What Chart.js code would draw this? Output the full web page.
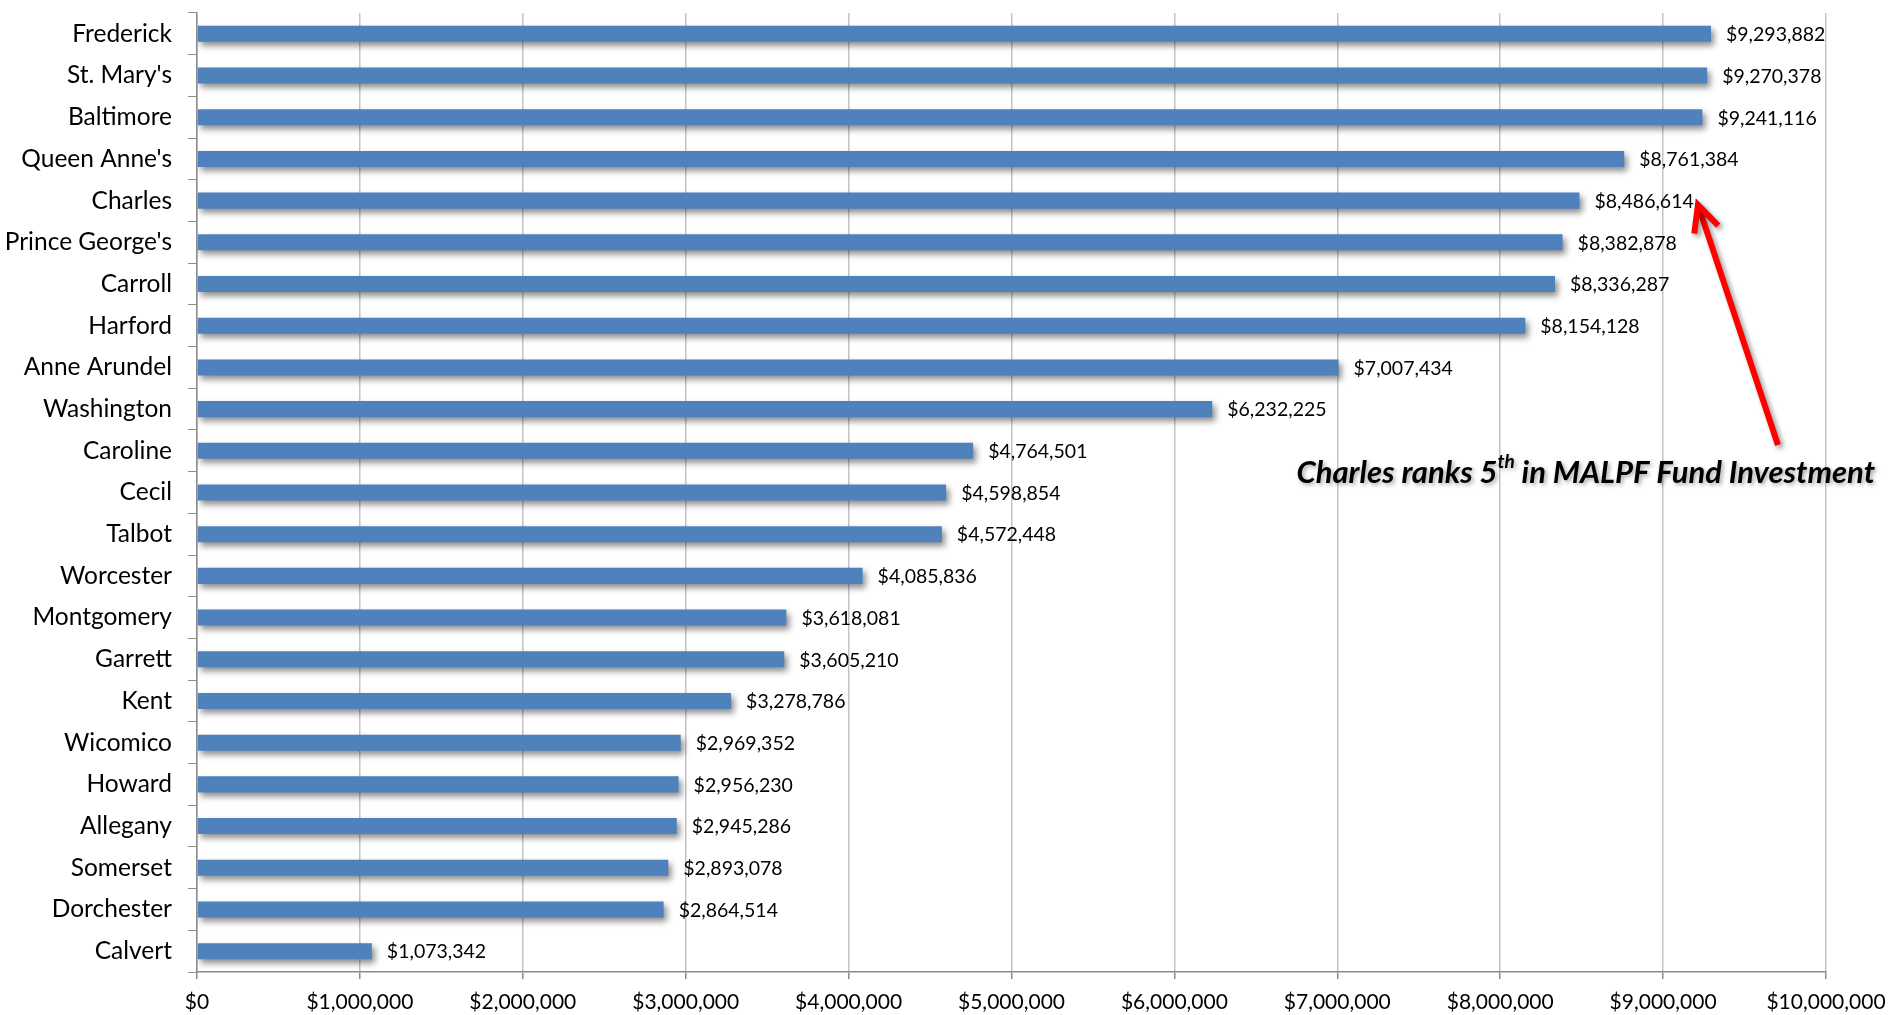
<!DOCTYPE html>
<html>
<head>
<meta charset="utf-8">
<script src="https://cdn.jsdelivr.net/npm/chart.js@4.4.0/dist/chart.umd.min.js"></script>
<style>
html,body{margin:0;padding:0;background:#fff;}
#wrap{width:1889px;height:1015px;position:relative;}
</style>
</head>
<body>
<div id="wrap"><canvas id="c" width="1889" height="1015"></canvas></div>
<script>
const counties = ["Frederick","St. Mary's","Baltimore","Queen Anne's","Charles","Prince George's","Carroll","Harford","Anne Arundel","Washington","Caroline","Cecil","Talbot","Worcester","Montgomery","Garrett","Kent","Wicomico","Howard","Allegany","Somerset","Dorchester","Calvert"];
const investment = [9293882,9270378,9241116,8761384,8486614,8382878,8336287,8154128,7007434,6232225,4764501,4598854,4572448,4085836,3618081,3605210,3278786,2969352,2956230,2945286,2893078,2864514,1073342];
const xTicks = [0,1000000,2000000,3000000,4000000,5000000,6000000,7000000,8000000,9000000,10000000];
const annotationText = ["Charles ranks 5", "th", " in MALPF Fund Investment"];
const highlightCounty = "Charles";

const FONT = "Lato, 'Open Sans', sans-serif";
const money = v => "$" + Math.round(v).toLocaleString("en-US");

const shadowPlugin = {
  id: 'barShadow',
  beforeDatasetsDraw(chart) {
    const ctx = chart.ctx;
    ctx.save();
    ctx.shadowColor = 'rgba(0,0,0,0.45)';
    ctx.shadowBlur = 6;
    ctx.shadowOffsetX = 3;
    ctx.shadowOffsetY = 4;
  },
  afterDatasetsDraw(chart) {
    chart.ctx.restore();
  }
};

const valueLabels = {
  id: 'valueLabels',
  afterDatasetsDraw(chart) {
    const ctx = chart.ctx;
    const meta = chart.getDatasetMeta(0);
    ctx.save();
    ctx.font = "19.5px " + FONT;
    ctx.fillStyle = "#000";
    ctx.textAlign = "left";
    ctx.textBaseline = "middle";
    meta.data.forEach((bar, i) => {
      ctx.fillText(money(investment[i]), bar.x + 15, bar.y + 1);
    });
    ctx.restore();
  }
};

const annotation = {
  id: 'annotation',
  afterDraw(chart) {
    const ctx = chart.ctx;
    const xs = chart.scales.x, ys = chart.scales.y;
    const idx = counties.indexOf(highlightCounty);
    const tipX = xs.getPixelForValue(9214000), tipY = ys.getPixelForValue(idx + 0.1);
    const tailX = xs.getPixelForValue(9705000), tailY = ys.getPixelForValue(idx + 5.86);
    ctx.save();
    ctx.shadowColor = 'rgba(0,0,0,0.4)';
    ctx.shadowBlur = 5;
    ctx.shadowOffsetX = 3;
    ctx.shadowOffsetY = 3;
    ctx.strokeStyle = "#ff0000";
    ctx.lineWidth = 6;
    ctx.lineCap = "butt";
    ctx.lineJoin = "miter";
    const ang = Math.atan2(tailY - tipY, tailX - tipX);
    const wing = 29, spread = 0.45;
    ctx.beginPath();
    ctx.moveTo(tailX, tailY);
    ctx.lineTo(tipX + 3*Math.cos(ang), tipY + 3*Math.sin(ang));
    ctx.stroke();
    ctx.beginPath();
    ctx.moveTo(tipX + wing*Math.cos(ang - spread), tipY + wing*Math.sin(ang - spread));
    ctx.lineTo(tipX, tipY);
    ctx.lineTo(tipX + wing*Math.cos(ang + spread), tipY + wing*Math.sin(ang + spread));
    ctx.stroke();
    ctx.restore();

    const cx = xs.getPixelForValue(8525000), cy = ys.getPixelForValue(idx + 6.53);
    const big = "italic bold 31px " + FONT, small = "italic bold 19px " + FONT;
    ctx.save();
    ctx.font = big;
    const w1 = ctx.measureText(annotationText[0]).width;
    const w3 = ctx.measureText(annotationText[2]).width;
    ctx.font = small;
    const w2 = ctx.measureText(annotationText[1]).width;
    const total = w1 + w2 + w3;
    let x = cx - total/2;
    ctx.shadowColor = 'rgba(0,0,0,0.35)';
    ctx.shadowBlur = 4;
    ctx.shadowOffsetX = 2;
    ctx.shadowOffsetY = 2;
    ctx.fillStyle = "#000";
    ctx.textBaseline = "middle";
    ctx.textAlign = "left";
    ctx.font = big;
    ctx.fillText(annotationText[0], x, cy);
    x += w1;
    ctx.font = small;
    ctx.fillText(annotationText[1], x, cy - 11);
    x += w2;
    ctx.font = big;
    ctx.fillText(annotationText[2], x, cy);
    ctx.restore();
  }
};

new Chart(document.getElementById('c'), {
  type: 'bar',
  data: {
    labels: counties,
    datasets: [{
      data: investment,
      backgroundColor: '#4F81BD',
      borderWidth: 0,
      categoryPercentage: 1.0,
      barPercentage: 0.385
    }]
  },
  options: {
    indexAxis: 'y',
    responsive: false,
    animation: false,
    devicePixelRatio: 1,
    layout: { padding: { top: 13, right: 63, left: 0, bottom: 0 } },
    plugins: { legend: { display: false }, tooltip: { enabled: false } },
    scales: {
      x: {
        type: 'linear',
        min: 0, max: 10000000,
        afterBuildTicks(scale) { scale.ticks = xTicks.map(v => ({ value: v })); },
        afterFit(scale) { scale.height = 43; scale.paddingLeft = 0; scale.paddingRight = 0; },
        grid: { color: '#c4c4c4', lineWidth: 1.5, tickColor: '#8c8c8c', tickLength: 7, drawTicks: true },
        border: { color: '#8c8c8c', width: 1.5 },
        ticks: {
          font: { family: FONT, size: 21 },
          color: '#000',
          padding: 11,
          maxRotation: 0,
          autoSkip: false,
          callback: v => money(v)
        }
      },
      y: {
        afterFit(scale) { scale.width = 197; scale.paddingTop = 0; scale.paddingBottom = 0; },
        grid: { drawOnChartArea: false, drawTicks: true, tickLength: 9, tickColor: '#8c8c8c', offset: true },
        border: { color: '#8c8c8c', width: 1.5 },
        ticks: {
          font: { family: FONT, size: 24.5 },
          color: '#000',
          padding: 16,
          autoSkip: false
        }
      }
    }
  },
  plugins: [shadowPlugin, valueLabels, annotation]
});
</script>
</body>
</html>
